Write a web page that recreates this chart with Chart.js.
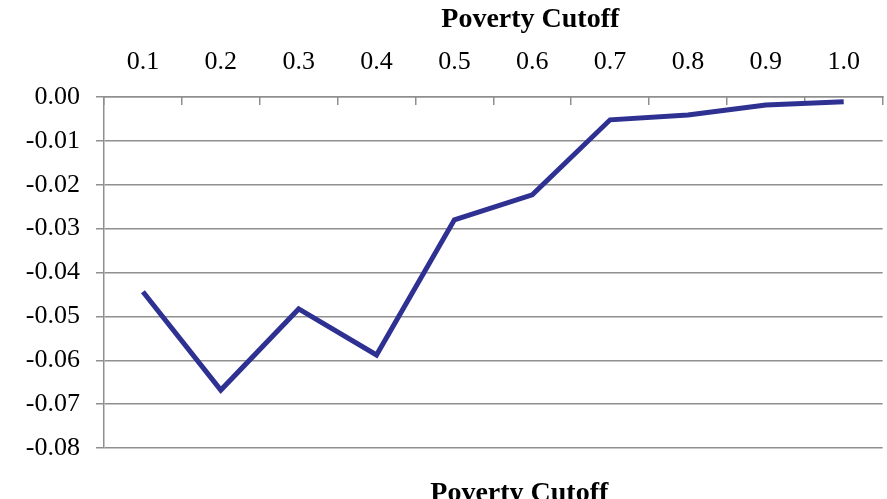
<!DOCTYPE html>
<html>
<head>
<meta charset="utf-8">
<script src="https://cdn.jsdelivr.net/npm/chart.js@4.4.1/dist/chart.umd.min.js"></script>
<style>
  html, body { margin: 0; padding: 0; background: #fff; overflow: hidden; }
  #wrap { width: 887px; height: 499px; }
</style>
</head>
<body>
<div id="wrap"><canvas id="chart" width="887" height="499"></canvas></div>
<script>
// Poverty cutoff categories (x) and the measured effect at each cutoff (y)
const cutoffs = ['0.1', '0.2', '0.3', '0.4', '0.5', '0.6', '0.7', '0.8', '0.9', '1.0'];
const effect = [-0.0444, -0.0668, -0.0483, -0.0588, -0.0280, -0.0223, -0.0052, -0.0041, -0.0018, -0.0011];
const yTicks = [0, -0.01, -0.02, -0.03, -0.04, -0.05, -0.06, -0.07, -0.08];
const axisCaption = 'Poverty Cutoff';

const SERIF = '"Liberation Serif", "DejaVu Serif", serif';
const GRID = '#8f8f8f';

// Draws the axis caption above the top axis and again below the plot
const captions = {
  id: 'captions',
  afterDraw(chart) {
    const ctx = chart.ctx;
    const area = chart.chartArea;
    const mid = (area.left + area.right) / 2;
    ctx.save();
    ctx.fillStyle = '#000';
    ctx.font = 'bold 28px ' + SERIF;
    ctx.textAlign = 'center';
    ctx.textBaseline = 'alphabetic';
    ctx.fillText(axisCaption, mid + 37, 27);
    ctx.fillText(axisCaption, mid + 26, 501);
    ctx.restore();
  }
};

new Chart(document.getElementById('chart'), {
  type: 'line',
  data: {
    labels: cutoffs,
    datasets: [{
      data: effect,
      borderColor: '#2e3192',
      borderWidth: 5,
      pointRadius: 0,
      tension: 0,
      fill: false
    }]
  },
  options: {
    responsive: false,
    animation: false,
    devicePixelRatio: 1,
    layout: { padding: { left: 0, right: 1, top: 0, bottom: 51 } },
    plugins: { legend: { display: false }, tooltip: { enabled: false } },
    scales: {
      x: {
        type: 'category',
        position: 'top',
        offset: true,
        grid: {
          offset: true,
          drawOnChartArea: false,
          color: GRID,
          lineWidth: 1.5,
          tickLength: -8
        },
        border: { display: true, color: GRID, width: 1.5 },
        ticks: {
          color: '#000',
          font: { family: SERIF, size: 26 },
          padding: 27,
          maxRotation: 0
        },
        afterFit(scale) { scale.height = 97; }
      },
      y: {
        min: -0.08,
        max: 0,
        afterBuildTicks(scale) { scale.ticks = yTicks.map(v => ({ value: v })); },
        grid: {
          color: GRID,
          lineWidth: 1.5,
          tickLength: 8
        },
        border: { display: true, color: GRID, width: 1.5 },
        ticks: {
          color: '#000',
          font: { family: SERIF, size: 26 },
          padding: 16,
          callback: v => v.toFixed(2)
        },
        afterFit(scale) { scale.width = 104; }
      }
    }
  },
  plugins: [captions]
});
</script>
</body>
</html>
